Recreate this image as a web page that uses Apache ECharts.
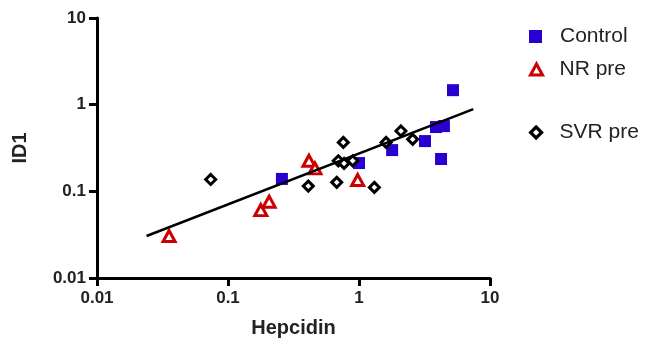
<!DOCTYPE html>
<html>
<head>
<meta charset="utf-8">
<script src="https://cdn.jsdelivr.net/npm/echarts@6/dist/echarts.min.js"></script>
<style>
  html, body { margin: 0; padding: 0; background: #fff; }
  #chart { width: 667px; height: 345px; }
</style>
</head>
<body>
<div id="chart"></div>
<script>
// values (log-log)
const controlX = [0.258, 1.0, 1.79, 3.19, 3.87, 4.45, 4.23, 5.22];
const controlY = [0.139, 0.212, 0.299, 0.38, 0.552, 0.566, 0.236, 1.47];

const nrX = [0.0355, 0.178, 0.206, 0.415, 0.461, 0.977];
const nrY = [0.0305, 0.0608, 0.0759, 0.225, 0.184, 0.135];

const svrX = [0.0738, 0.41, 0.676, 0.759, 0.695, 0.769, 0.895, 1.31, 1.61, 2.09, 2.57];
const svrY = [0.137, 0.115, 0.127, 0.367, 0.225, 0.21, 0.225, 0.111, 0.367, 0.497, 0.398];

// fitted line end points
const fitX = [0.0239, 7.46];
const fitY = [0.0305, 0.889];

const xTickLabels = ["0.01", "0.1", "1", "10"];
const yTickLabels = ["0.01", "0.1", "1", "10"];

const zip = (xs, ys) => xs.map((x, i) => [x, ys[i]]);

const font = "Liberation Sans, Arial, sans-serif";
const blue = "#2a00d2";
const red = "#cc0000";

const chart = echarts.init(document.getElementById("chart"));

const legendBase = {
  left: 529,
  padding: 0,
  orient: "vertical",
  itemWidth: 13,
  itemHeight: 13,
  textStyle: { fontFamily: font, fontSize: 21, color: "#222", padding: [0, 0, 0, 13] },
  selectedMode: false,
};

const axisCommon = {
  type: "log",
  logBase: 10,
  min: 0.01,
  max: 10,
  axisLine: { show: true, lineStyle: { color: "#000", width: 3 } },
  axisTick: { show: true, length: 8, lineStyle: { color: "#000", width: 3 } },
  splitLine: { show: false },
  minorTick: { show: false },
  nameTextStyle: { fontFamily: font, fontSize: 20, fontWeight: "bold", color: "#222" },
};

const tickLabel = (labels) => ({
  fontFamily: font,
  fontSize: 17,
  fontWeight: "bold",
  color: "#222",
  formatter: v => labels.find(t => Math.abs(Number(t) - v) < v * 1e-6) || "",
});

chart.setOption({
  animation: false,
  grid: { left: 97, right: 177, top: 18, bottom: 67, containLabel: false },
  legend: [
    { ...legendBase, top: 26, data: ["Control"] },
    {
      ...legendBase,
      top: 59,
      data: ["NR pre"],
      itemWidth: 12,
      itemHeight: 11,
      textStyle: { ...legendBase.textStyle, padding: [0, 0, 0, 12] },
      itemStyle: { color: "#fff", borderColor: red, borderWidth: 3 },
    },
    {
      ...legendBase,
      top: 122,
      data: ["SVR pre"],
      itemWidth: 11,
      itemHeight: 11,
      textStyle: { ...legendBase.textStyle, padding: [0, 0, 0, 13] },
      itemStyle: { color: "#fff", borderColor: "#000", borderWidth: 3.2 },
    },
  ],
  xAxis: {
    ...axisCommon,
    name: "Hepcidin",
    nameLocation: "middle",
    nameGap: 40,
    axisLabel: { margin: 12, ...tickLabel(xTickLabels) },
  },
  yAxis: {
    ...axisCommon,
    name: "ID1",
    nameLocation: "middle",
    nameGap: 67,
    axisLabel: { margin: 11, ...tickLabel(yTickLabels) },
  },
  series: [
    {
      name: "Control",
      type: "scatter",
      symbol: "rect",
      symbolSize: 12,
      data: zip(controlX, controlY),
      itemStyle: { color: blue, opacity: 1 },
      z: 2,
    },
    {
      name: "NR pre",
      type: "scatter",
      symbol: "triangle",
      symbolSize: [12, 11],
      data: zip(nrX, nrY),
      itemStyle: { color: "#fff", borderColor: red, borderWidth: 3, opacity: 1 },
      z: 3,
    },
    {
      name: "SVR pre",
      type: "scatter",
      symbol: "diamond",
      symbolSize: 10,
      data: zip(svrX, svrY),
      itemStyle: { color: "#fff", borderColor: "#000", borderWidth: 3, opacity: 1 },
      z: 4,
    },
    {
      name: "fit",
      type: "line",
      data: zip(fitX, fitY),
      symbol: "none",
      lineStyle: { color: "#000", width: 2.5 },
      z: 5,
    },
  ],
});
</script>
</body>
</html>
